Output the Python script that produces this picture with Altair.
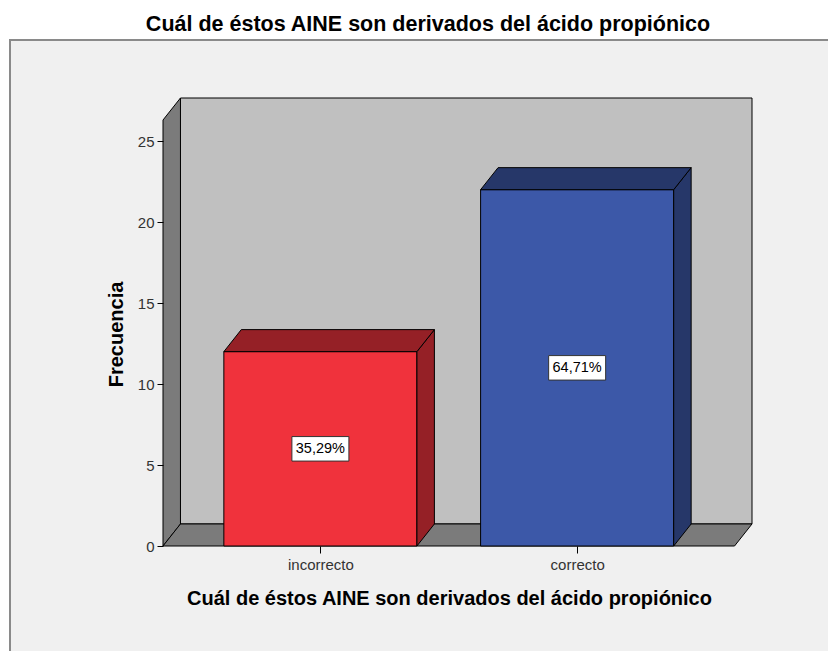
import json
import altair as alt
import pandas as pd

# ---------------- data ----------------
categories = ["incorrecto", "correcto"]
counts = [12, 22]
percent_labels = ["35,29%", "64,71%"]
front_colors = ["#f0323c", "#3c58a8"]
side_colors = ["#952026", "#263769"]
y_ticks = [0, 5, 10, 15, 20, 25]

chart_title = "Cuál de éstos AINE son derivados del ácido propiónico"
x_title = "Cuál de éstos AINE son derivados del ácido propiónico"
y_title = "Frecuencia"

# ---------------- geometry / style ----------------
FONT = "Liberation Sans"
BAR_W = 0.752        # bar width in category units
DX = 0.068           # 3D depth (x, category units)
DY = 1.36            # 3D depth (y, count units)
X_MARGIN = 0.613     # floor extent beyond outer bar centres
Y_TOP_FRONT = 26.3   # top of the front edge of the left wall
PW, PH = 589, 448
PAD = {"left": 155, "top": 90, "right": 76, "bottom": 105}

positions = [i + 1 for i in range(len(categories))]
X0 = positions[0] - X_MARGIN
X1 = positions[-1] + X_MARGIN

xscale = alt.Scale(domain=[X0, X1 + DX], nice=False, zero=False)
yscale = alt.Scale(domain=[0, Y_TOP_FRONT + DY], nice=False, zero=False)

label_expr = json.dumps(categories) + "[datum.value - 1]"
xaxis = alt.Axis(values=positions, labelExpr=label_expr, title=None, domain=False,
                 grid=False, tickSize=7, tickColor="black", tickWidth=1,
                 labelFontSize=15, labelFont=FONT, labelColor="#333333",
                 labelPadding=4, zindex=1)
yaxis = alt.Axis(values=y_ticks, title=None, domain=False, grid=False, tickSize=6,
                 tickColor="black", tickWidth=1, labelFontSize=15, labelFont=FONT,
                 labelColor="#333333", labelPadding=3, zindex=1)


def X(f="x"):
    return alt.X(f + ":Q", scale=xscale, axis=xaxis)


def Y(f="y"):
    return alt.Y(f + ":Q", scale=yscale, axis=yaxis, stack=None)


# ---------------- frame ----------------
one = pd.DataFrame({"a": [0]})
frame = alt.Chart(one).mark_rect(fill="#f0f0f0", stroke="#8a8a8a", strokeWidth=2).encode(
    x=alt.value(-153), x2=alt.value(720), y=alt.value(-58), y2=alt.value(620)
)

# ---------------- walls ----------------
back_df = pd.DataFrame({"x": [X0 + DX], "x2": [X1 + DX], "y": [DY], "y2": [Y_TOP_FRONT + DY]})
back = alt.Chart(back_df).mark_rect(fill="#c0c0c0", stroke="black", strokeWidth=1).encode(
    x=X(), x2="x2:Q", y=Y(), y2="y2:Q"
)

left_df = pd.DataFrame({"x": [X0, X0 + DX], "y": [0, DY], "y2": [Y_TOP_FRONT, Y_TOP_FRONT + DY]})
left = alt.Chart(left_df).mark_area(fill="#7b7b7b", stroke="black", strokeWidth=1,
                                     opacity=1, fillOpacity=1).encode(
    x=X(), y=Y(), y2="y2:Q"
)

floor_df = pd.DataFrame({"y": [0, DY], "x": [X0, X0 + DX], "x2": [X1, X1 + DX]})
floor = alt.Chart(floor_df).mark_area(orient="horizontal", fill="#7b7b7b", stroke="black",
                                       strokeWidth=1, fillOpacity=1).encode(
    y=Y(), x=X(), x2="x2:Q"
)

# ---------------- bars ----------------
front_rows, side_rows, top_rows, label_rows = [], [], [], []
for i, (p, c) in enumerate(zip(positions, counts)):
    front_rows.append({"x": p - BAR_W / 2, "x2": p + BAR_W / 2, "y": 0, "y2": c,
                       "col": front_colors[i]})
    side_rows.append({"id": i, "x": p + BAR_W / 2, "y": 0, "y2": c, "col": side_colors[i]})
    side_rows.append({"id": i, "x": p + BAR_W / 2 + DX, "y": DY, "y2": c + DY,
                      "col": side_colors[i]})
    top_rows.append({"id": i, "y": c, "x": p - BAR_W / 2, "x2": p + BAR_W / 2,
                     "col": side_colors[i]})
    top_rows.append({"id": i, "y": c + DY, "x": p - BAR_W / 2 + DX, "x2": p + BAR_W / 2 + DX,
                     "col": side_colors[i]})
    label_rows.append({"x": p, "y": c / 2, "t": percent_labels[i]})

front = alt.Chart(pd.DataFrame(front_rows)).mark_rect(stroke="black", strokeWidth=1).encode(
    x=X(), x2="x2:Q", y=Y(), y2="y2:Q", fill=alt.Fill("col:N", scale=None)
)
side = alt.Chart(pd.DataFrame(side_rows)).mark_area(stroke="black", strokeWidth=1,
                                                     fillOpacity=1).encode(
    x=X(), y=Y(), y2="y2:Q", fill=alt.Fill("col:N", scale=None), detail="id:N"
)
top = alt.Chart(pd.DataFrame(top_rows)).mark_area(orient="horizontal", stroke="black",
                                                   strokeWidth=1, fillOpacity=1).encode(
    y=Y(), x=X(), x2="x2:Q", fill=alt.Fill("col:N", scale=None), detail="id:N"
)

lab_df = pd.DataFrame(label_rows)
box = alt.Chart(lab_df).mark_point(
    shape="M-1,-0.43L1,-0.43L1,0.43L-1,0.43Z", size=57 * 57, filled=True,
    fill="white", stroke="#333333", strokeWidth=1, opacity=1
).encode(x=X(), y=Y())
lab = alt.Chart(lab_df).mark_text(font=FONT, fontSize=14.5, color="black",
                                  baseline="middle", align="center").encode(
    x=X(), y=Y(), text="t:N"
)

# ---------------- titles ----------------
title = alt.Chart(pd.DataFrame({"t": [chart_title]})).mark_text(
    font=FONT, fontSize=21.5, fontWeight="bold", color="black", align="center",
    baseline="alphabetic").encode(x=alt.value(265), y=alt.value(-67), text="t:N")
xt = alt.Chart(pd.DataFrame({"t": [x_title]})).mark_text(
    font=FONT, fontSize=20, fontWeight="bold", color="black", align="center",
    baseline="alphabetic").encode(x=alt.value(286.5), y=alt.value(507), text="t:N")
yt = alt.Chart(pd.DataFrame({"t": [y_title]})).mark_text(
    font=FONT, fontSize=20, fontWeight="bold", color="black", align="center",
    baseline="alphabetic", angle=270).encode(x=alt.value(-40), y=alt.value(236.5), text="t:N")

chart = alt.layer(frame, back, left, floor, front, side, top, box, lab, title, xt, yt).properties(
    width=PW, height=PH, padding=PAD, autosize=alt.AutoSizeParams(type="none"),
    background="white"
).configure_view(stroke=None)

chart.save("out.html", embed_options={"renderer": "svg", "actions": False})
